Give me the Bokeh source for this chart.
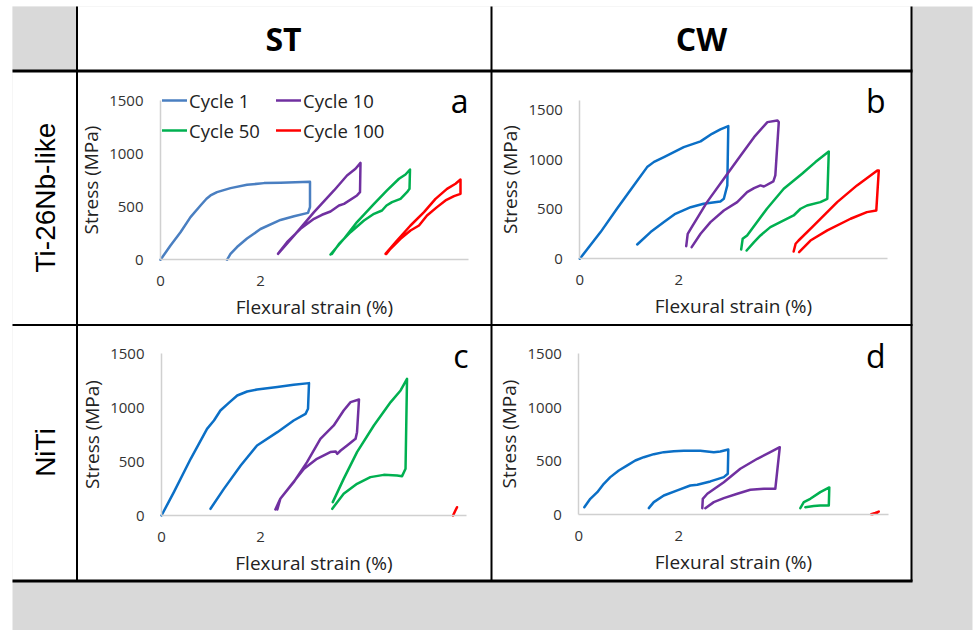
import math
from bokeh.plotting import figure
from bokeh.models import Range1d, LinearAxis, FixedTicker, Legend, LegendItem
from bokeh.embed import file_html
from bokeh.resources import INLINE
from bokeh.core.properties import value

# ---------------- data ----------------
column_headers = ["ST", "CW"]
row_headers = ["Ti-26Nb-like", "NiTi"]
panel_letters = ["a", "b", "c", "d"]
cycle_labels = ["Cycle 1", "Cycle 10", "Cycle 50", "Cycle 100"]
strain_ticks = [0, 2]
stress_ticks = [0, 500, 1000, 1500]
x_axis_title = "Flexural strain (%)"
y_axis_title = "Stress (MPa)"

# Panel a : ST / Ti-26Nb-like
a_c1_strain = [0, 0.2, 0.4, 0.6, 0.8, 0.92, 1.0, 1.13, 1.4, 1.73, 2.07, 2.4, 2.99, 2.99, 2.95, 2.67, 2.4, 2.0, 1.73, 1.53, 1.4, 1.33]
a_c1_stress = [0, 135, 260, 402, 511, 575, 606, 637, 675, 706, 722, 725, 734, 496, 442, 410, 375, 290, 200, 120, 55, 0]
a_c10_strain = [2.35, 2.73, 3.07, 3.47, 3.73, 3.9, 4.0, 3.99, 3.93, 3.67, 3.57, 3.4, 3.23, 3.07, 2.8, 2.53, 2.4, 2.35]
a_c10_stress = [56, 260, 449, 653, 794, 857, 913, 637, 606, 527, 511, 455, 424, 386, 292, 166, 88, 56]
a_c50_strain = [3.4, 3.67, 3.93, 4.27, 4.53, 4.77, 4.9, 4.99, 4.98, 4.93, 4.8, 4.63, 4.52, 4.43, 4.27, 4.07, 3.8, 3.57, 3.43]
a_c50_stress = [50, 198, 355, 527, 653, 763, 803, 850, 668, 637, 574, 543, 511, 464, 433, 370, 260, 150, 56]
a_c100_strain = [4.5, 4.73, 5.0, 5.27, 5.5, 5.73, 5.9, 6.0, 6.0, 5.87, 5.7, 5.53, 5.33, 5.17, 5.0, 4.8, 4.6, 4.52]
a_c100_stress = [56, 182, 323, 449, 574, 668, 716, 756, 621, 599, 559, 496, 417, 323, 276, 198, 104, 56]

# Panel b : CW / Ti-26Nb-like
b_c1_strain = [0, 0.42, 0.75, 1.09, 1.36, 1.50, 1.70, 2.10, 2.44, 2.67, 2.84, 3.0, 2.98, 2.91, 2.84, 2.5, 2.24, 1.93, 1.70, 1.43, 1.16]
b_c1_stress = [0, 270, 506, 742, 927, 980, 1028, 1129, 1187, 1264, 1308, 1342, 742, 607, 580, 556, 522, 455, 371, 270, 145]
b_c10_strain = [2.15, 2.18, 2.24, 2.57, 2.91, 3.25, 3.52, 3.79, 3.99, 4.02, 3.95, 3.91, 3.72, 3.65, 3.52, 3.38, 3.18, 2.91, 2.64, 2.44, 2.26]
b_c10_stress = [128, 253, 303, 573, 809, 1045, 1230, 1382, 1399, 1382, 843, 782, 731, 742, 715, 674, 573, 489, 371, 253, 118]
b_c50_strain = [3.26, 3.29, 3.38, 3.78, 4.12, 4.49, 4.76, 5.03, 5.0, 4.86, 4.59, 4.46, 4.32, 4.05, 3.85, 3.65, 3.52, 3.37]
b_c50_stress = [94, 202, 236, 506, 708, 860, 978, 1085, 607, 573, 539, 506, 438, 371, 320, 236, 169, 84]
b_c100_strain = [4.32, 4.36, 4.42, 4.73, 5.20, 5.60, 6.01, 6.04, 5.99, 5.80, 5.47, 5.0, 4.66, 4.43]
b_c100_stress = [74, 152, 185, 337, 573, 742, 893, 893, 489, 472, 405, 287, 185, 67]

# Panel c : ST / NiTi
c_c1_strain = [0, 0.25, 0.59, 0.92, 1.06, 1.19, 1.36, 1.53, 1.73, 1.93, 2.34, 2.67, 2.98, 2.96, 2.91, 2.67, 2.34, 1.93, 1.60, 1.26, 0.99]
c_c1_stress = [0, 217, 526, 804, 881, 974, 1045, 1113, 1150, 1169, 1191, 1212, 1228, 990, 943, 881, 773, 650, 464, 247, 62]
c_c10_strain = [2.30, 2.40, 2.67, 2.94, 3.21, 3.48, 3.68, 3.82, 3.99, 3.95, 3.92, 3.75, 3.62, 3.55, 3.52, 3.41, 3.14, 2.88, 2.61, 2.40, 2.34]
c_c10_stress = [56, 155, 309, 495, 711, 835, 974, 1052, 1076, 773, 711, 650, 603, 572, 594, 588, 526, 433, 278, 155, 56]
c_c50_strain = [3.46, 3.68, 3.95, 4.29, 4.63, 4.83, 4.96, 4.93, 4.86, 4.76, 4.49, 4.22, 3.95, 3.68, 3.45]
c_c50_stress = [124, 340, 588, 835, 1052, 1160, 1268, 433, 365, 371, 377, 356, 294, 201, 62]
c_c100_strain = [5.89, 5.93, 5.97]
c_c100_stress = [0, 40, 77]

# Panel d : CW / NiTi
d_c1_strain = [0.11, 0.23, 0.37, 0.5, 0.63, 0.8, 0.97, 1.13, 1.30, 1.5, 1.70, 1.9, 2.1, 2.43, 2.70, 2.83, 2.99, 2.98, 2.9, 2.63, 2.37, 2.23, 1.97, 1.70, 1.50, 1.4]
d_c1_stress = [71, 149, 211, 289, 351, 413, 460, 506, 537, 565, 584, 593, 596, 596, 584, 590, 609, 382, 351, 311, 280, 273, 227, 180, 118, 62]
d_c10_strain = [2.47, 2.48, 2.57, 2.9, 3.23, 3.57, 3.83, 4.02, 3.93, 3.7, 3.43, 3.17, 2.9, 2.7, 2.53]
d_c10_stress = [62, 149, 196, 304, 429, 522, 584, 630, 242, 242, 233, 196, 155, 118, 62]
d_c50_strain = [4.43, 4.5, 4.63, 4.83, 5.01, 5.0, 4.83, 4.7, 4.53]
d_c50_stress = [62, 118, 149, 211, 255, 87, 87, 81, 71]
d_c100_strain = [5.85, 5.93, 6.0, 5.96, 5.88]
d_c100_stress = [6, 18, 30, 16, 6]

panels = {
    "a": [(a_c1_strain, a_c1_stress), (a_c10_strain, a_c10_stress), (a_c50_strain, a_c50_stress), (a_c100_strain, a_c100_stress)],
    "b": [(b_c1_strain, b_c1_stress), (b_c10_strain, b_c10_stress), (b_c50_strain, b_c50_stress), (b_c100_strain, b_c100_stress)],
    "c": [(c_c1_strain, c_c1_stress), (c_c10_strain, c_c10_stress), (c_c50_strain, c_c50_stress), (c_c100_strain, c_c100_stress)],
    "d": [(d_c1_strain, d_c1_stress), (d_c10_strain, d_c10_stress), (d_c50_strain, d_c50_stress), (d_c100_strain, d_c100_stress)],
}

# ---------------- styling / layout ----------------
W, H = 975, 630

colors_light = ["#4a7fc1", "#7030a0", "#00b050", "#ff0000"]
colors_main = ["#0b6fc6", "#7030a0", "#00b050", "#ff0000"]
panel_colors = {"a": colors_light, "b": colors_main, "c": colors_main, "d": colors_main}

# pixel placement of each chart's origin and its scale
geom = {
    "a": dict(x0=160.0, sx=50.0, y0=259.3, sy=0.1062, xmax=6.16, ymax=1500),
    "b": dict(x0=579.3, sx=49.5, y0=258.3, sy=0.0989, xmax=6.21, ymax=1600),
    "c": dict(x0=161.0, sx=49.5, y0=515.0, sy=0.1078, xmax=6.17, ymax=1500),
    "d": dict(x0=578.3, sx=50.0, y0=514.3, sy=0.1073, xmax=6.20, ymax=1500),
}

FONT = "Open Sans"
TICK_COLOR = "#333333"
LABEL_COLOR = "#222222"

p = figure(width=W, height=H,
           x_range=Range1d(0, W), y_range=Range1d(H, 0),
           x_axis_type=None, y_axis_type=None,
           toolbar_location=None, output_backend="svg",
           min_border=0, outline_line_color=None,
           background_fill_color="white", border_fill_color="white")
p.grid.visible = False

# background and table
p.quad(left=[12], right=[972], top=[6], bottom=[640], fill_color="#d9d9d9", line_color=None)
p.quad(left=[12], right=[911], top=[6], bottom=[580], fill_color="white", line_color=None)
p.quad(left=[12], right=[76.5], top=[6], bottom=[70.5], fill_color="#d9d9d9", line_color=None)
p.segment(x0=[76.5, 491, 911], y0=[6, 6, 6], x1=[76.5, 491, 911], y1=[581, 581, 581],
          line_color="black", line_width=2)
p.segment(x0=[12, 12], y0=[70.5, 580.5], x1=[912, 912], y1=[70.5, 580.5],
          line_color="black", line_width=3)
p.segment(x0=[12], y0=[324.5], x1=[912], y1=[324.5], line_color="black", line_width=2)

# headers
p.text(x=[283, 701], y=[38, 38], text=column_headers, text_align="center", text_baseline="middle",
       text_font=value(FONT), text_font_style="bold", text_font_size=value("32px"), text_color="black")
p.text(x=[45, 45], y=[197, 452], text=row_headers, angle=math.pi / 2,
       text_align="center", text_baseline="middle",
       text_font=value("Liberation Sans"), text_font_size=value("28px"), text_color="black")
p.text(x=[468, 885, 468, 885], y=[100, 100, 355, 355], text=panel_letters,
       text_align="right", text_baseline="alphabetic",
       text_font=value(FONT), text_font_size=value("32px"), text_color="black")

legend_renderers = []
for key, series in panels.items():
    g = geom[key]
    xr, yr = f"{key}_x", f"{key}_y"
    p.extra_x_ranges[xr] = Range1d(start=-g["x0"] / g["sx"], end=(W - g["x0"]) / g["sx"])
    p.extra_y_ranges[yr] = Range1d(start=(g["y0"] - H) / g["sy"], end=g["y0"] / g["sy"])

    xa = LinearAxis(x_range_name=xr, y_range_name=yr, fixed_location=0, bounds=(0, g["xmax"]),
                    ticker=FixedTicker(ticks=strain_ticks), axis_label=x_axis_title)
    ya = LinearAxis(x_range_name=xr, y_range_name=yr, fixed_location=0, bounds=(0, g["ymax"]),
                    ticker=FixedTicker(ticks=stress_ticks), axis_label=y_axis_title)
    for ax in (xa, ya):
        ax.axis_line_color = "#d0d0d0"
        ax.axis_line_width = 1.5
        ax.major_tick_line_color = None
        ax.minor_tick_line_color = None
        ax.major_tick_in = 0
        ax.major_tick_out = 0
        ax.major_label_text_font = FONT
        ax.major_label_text_font_size = "15px"
        ax.major_label_text_color = TICK_COLOR
        ax.axis_label_text_font = FONT
        ax.axis_label_text_font_size = "19px"
        ax.axis_label_text_font_style = "normal"
        ax.axis_label_text_color = LABEL_COLOR
    xa.major_label_standoff = 16
    xa.axis_label_standoff = 5
    ya.major_label_standoff = 17
    ya.axis_label_standoff = 2
    p.add_layout(xa, "below")
    p.add_layout(ya, "left")

    rs = []
    for (xs, ys), col in zip(series, panel_colors[key]):
        r = p.line(xs, ys, x_range_name=xr, y_range_name=yr, line_color=col, line_width=2.5,
                   line_join="round", line_cap="round")
        rs.append(r)
    if key == "a":
        legend_renderers = rs

# Bokeh fills legend columns first: order items so rows read Cycle 1 / Cycle 10, Cycle 50 / Cycle 100
legend_order = [0, 2, 1, 3]
legend = Legend(items=[LegendItem(label=cycle_labels[i], renderers=[legend_renderers[i]]) for i in legend_order],
                ncols=2, location=(162, H - 145),
                glyph_width=25, glyph_height=20, label_standoff=2, label_width=87, label_height=30,
                spacing=0, padding=0, margin=0,
                label_text_font=FONT, label_text_font_size="18.5px", label_text_color=LABEL_COLOR,
                background_fill_alpha=0, border_line_color=None)
p.add_layout(legend)

open("out.html", "w").write(file_html(p, INLINE))
